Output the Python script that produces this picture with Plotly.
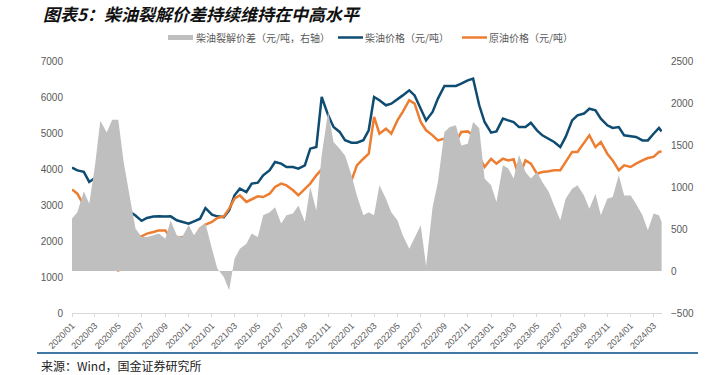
import pandas as pd
import plotly.graph_objects as go

# ---- data (semi-monthly samples) ----
dates = list(pd.date_range("2020-01-01", "2024-03-15", freq="SMS").strftime("%Y-%m-%d")) + ["2024-03-22"]

diesel_price = [
    4040, 3960, 3920, 3640, 3750, 3220, 3080, 3080, 2950, 2850,
    2810, 2710, 2560, 2640, 2680, 2690, 2680, 2685, 2575, 2530,
    2480, 2545, 2620, 2915, 2730, 2685, 2665, 2850, 3270, 3455,
    3360, 3595, 3620, 3825, 3965, 4195, 4150, 4055, 4055, 4010,
    4100, 4565, 4610, 6000, 5490, 5165, 5030, 4800, 4730, 4730,
    4800, 5075, 6000, 5910, 5770, 5815, 5925, 6045, 6185, 6045,
    5675, 5350, 5585, 5955, 6305, 6305, 6305, 6370, 6460, 6510,
    5770, 5305, 5010, 5045, 5400, 5350, 5305, 5165, 5165, 5285,
    5075, 4935, 4845, 4750, 4610, 4890, 5350, 5490, 5540, 5675,
    5630, 5400, 5215, 5140, 5165, 4935, 4910, 4890, 4795, 4795,
    4980, 5140, 5045,
]

crude_price = [
    3430, 3315, 2990, 2900, 2620, 1650, 1370, 1650, 1160, 1695,
    1925, 2110, 2130, 2205, 2250, 2295, 2295, 2085, 2085, 2110,
    1945, 2065, 2345, 2455, 2530, 2640, 2685, 2900, 3175, 3270,
    3085, 3160, 3240, 3220, 3315, 3500, 3595, 3545, 3410, 3270,
    3455, 3595, 3825, 3990, 3915, 3750, 3410, 3500, 3685, 4100,
    4285, 4425, 5445, 4980, 5120, 4980, 5350, 5585, 5910, 5815,
    5305, 5075, 4935, 4795, 4845, 4660, 4750, 5030, 5045, 4935,
    4335, 4055, 4285, 4150, 4285, 4240, 4270, 3780, 4240, 4150,
    3870, 3915, 3935, 3965, 3965, 4195, 4475, 4475, 4730, 4935,
    4610, 4750, 4425, 4240, 3965, 4100, 4055, 4150, 4240, 4305,
    4335, 4475, 4490,
]

crack_spread = [
    625, 700, 950, 800, 1250, 1790, 1650, 1800, 1800, 1300,
    860, 505, 405, 405, 425, 445, 385, 600, 425, 405,
    545, 425, 525, 565, 265, 30, -70, -230, 145, 265,
    325, 445, 405, 665, 700, 760, 565, 665, 685, 780,
    585, 1000, 720, 1380, 1900, 1535, 1455, 1375, 1140, 900,
    665, 700, 665, 1020, 860, 700, 605, 425, 265, 405,
    545, 60, 760, 1060, 1655, 1715, 1735, 1495, 1515, 1775,
    1700, 1100, 1020, 820, 1260, 1220, 1100, 1380, 1180, 1100,
    1180, 1060, 940, 780, 605, 860, 980, 1020, 900, 740,
    920, 665, 860, 880, 1140, 900, 900, 800, 665, 485,
    685, 665, 585,
]

legend_names = ["柴油裂解价差（元/吨，右轴）", "柴油价格（元/吨）", "原油价格（元/吨）"]
title_text = "图表5：柴油裂解价差持续维持在中高水平"
source_text = "来源：Wind，国金证券研究所"

# ---- layout geometry (page pixels) ----
W, H = 717, 375
L, R, T, B = 72, 662, 61, 313


def px(x):
    return (x - L) / (R - L)


def py(y):
    return (B - y) / (B - T)


GRAY = "#BFBFBF"
BLUE = "#0F4C72"
ORANGE = "#ED7D31"
TXT = "#595959"
CJK = "Noto Sans CJK SC, sans-serif"
LAT = "Liberation Sans, Arial, sans-serif"

fig = go.Figure()
fig.add_trace(go.Scatter(x=dates, y=crack_spread, yaxis="y2", mode="lines",
                         line=dict(width=0, color=GRAY), fill="tozeroy",
                         fillcolor=GRAY, showlegend=False, hoverinfo="skip"))
fig.add_trace(go.Scatter(x=dates, y=diesel_price, mode="lines",
                         line=dict(width=2.5, color=BLUE), showlegend=False))
fig.add_trace(go.Scatter(x=dates, y=crude_price, mode="lines",
                         line=dict(width=2.5, color=ORANGE), showlegend=False))

shapes = [
    # legend symbols
    dict(type="rect", xref="paper", yref="paper", x0=px(168), x1=px(193),
         y0=py(40), y1=py(35), fillcolor=GRAY, line=dict(width=0)),
    dict(type="line", xref="paper", yref="paper", x0=px(338), x1=px(363),
         y0=py(37.5), y1=py(37.5), line=dict(color=BLUE, width=2.5)),
    dict(type="line", xref="paper", yref="paper", x0=px(462), x1=px(487),
         y0=py(37.5), y1=py(37.5), line=dict(color=ORANGE, width=2.5)),
    # bottom rule
    dict(type="line", xref="paper", yref="paper", x0=px(37), x1=px(698),
         y0=py(353), y1=py(353), line=dict(color="#3E78A3", width=2)),
]

annotations = [
    dict(text="<b><i>" + title_text + "</i></b>", xref="paper", yref="paper",
         x=px(41), y=py(13.5), xanchor="left", yanchor="middle", showarrow=False,
         font=dict(family=CJK, size=17, color="#111111")),
    dict(text=legend_names[0], xref="paper", yref="paper", x=px(194), y=py(37.5),
         xanchor="left", yanchor="middle", showarrow=False,
         font=dict(family=CJK, size=10, color=TXT)),
    dict(text=legend_names[1], xref="paper", yref="paper", x=px(363), y=py(37.5),
         xanchor="left", yanchor="middle", showarrow=False,
         font=dict(family=CJK, size=10, color=TXT)),
    dict(text=legend_names[2], xref="paper", yref="paper", x=px(487), y=py(37.5),
         xanchor="left", yanchor="middle", showarrow=False,
         font=dict(family=CJK, size=10, color=TXT)),
    dict(text=source_text, xref="paper", yref="paper", x=px(39), y=py(365),
         xanchor="left", yanchor="middle", showarrow=False,
         font=dict(family=CJK, size=12, color="#222222")),
]

fig.update_layout(
    width=W, height=H,
    margin=dict(l=L, r=W - R, t=T, b=H - B, pad=0),
    paper_bgcolor="white", plot_bgcolor="white",
    showlegend=False,
    shapes=shapes, annotations=annotations,
    xaxis=dict(type="date", range=["2020-01-01", "2024-03-23"],
               dtick="M2", tick0="2020-01-01", tickformat="%Y/%m",
               tickangle=-45, showgrid=False, zeroline=False,
               showline=True, linecolor="#D9D9D9", linewidth=1,
               ticks="outside", ticklen=3, tickcolor="#D9D9D9",
               tickfont=dict(family=LAT, size=9, color=TXT)),
    yaxis=dict(range=[0, 7000], dtick=1000, showgrid=False, zeroline=False,
               showline=False, ticks="", ticklabelstandoff=8,
               tickfont=dict(family=LAT, size=10, color=TXT)),
    yaxis2=dict(range=[-500, 2500], dtick=500, overlaying="y", side="right",
                showgrid=False, zeroline=False, showline=False, ticks="",
                ticklabelstandoff=8,
                tickfont=dict(family=LAT, size=10, color=TXT)),
)

# remove the browser's default 8px body margin so the figure fills the window
fig.write_html("out.html", config={"displayModeBar": False},
               post_script="document.body.style.margin='0px';")
